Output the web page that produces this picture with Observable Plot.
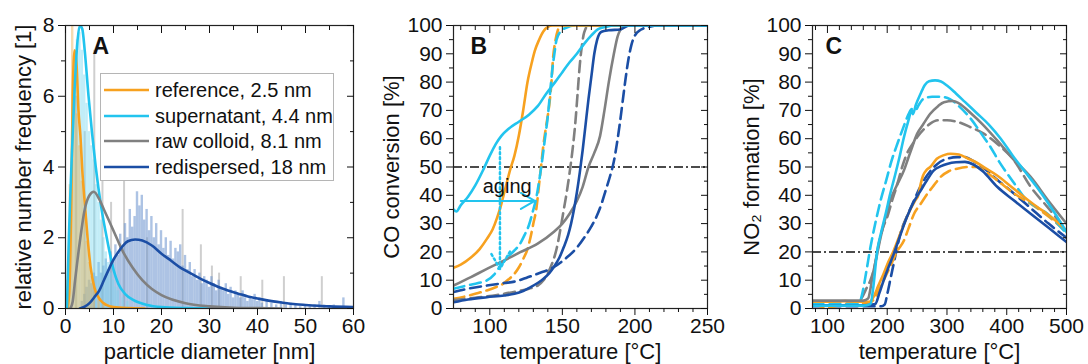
<!DOCTYPE html>
<html><head><meta charset="utf-8">
<script src="https://cdn.jsdelivr.net/npm/d3@7"></script>
<script src="https://cdn.jsdelivr.net/npm/@observablehq/plot@0.6"></script>
<style>
body{margin:0;background:#fff;}
#wrap{position:relative;width:1088px;height:364px;overflow:hidden;font-family:"Liberation Sans",Arial,sans-serif;}
.panel{position:absolute;top:0;}
#legend{position:absolute;left:100px;top:73px;width:234px;height:108px;border:1px solid #b5b5b5;background:#fff;box-sizing:border-box;}
.lrow{position:absolute;left:0;height:24px;font-size:20px;color:#111;white-space:nowrap;}
</style></head><body>
<div id="wrap">
  <div id="pa" class="panel" style="left:0"></div>
  <div id="pb" class="panel" style="left:370px"></div>
  <div id="pc" class="panel" style="left:730px"></div>
  <div id="legend"></div>
</div>
<script>
// ---------- colours ----------
const cOrange = "#f7a11f", cCyan = "#22c4ee", cGrey = "#808080", cNavy = "#1b4ea5";

// ---------- Panel A: size distributions ----------
const aLegendLabels = ["reference, 2.5 nm", "supernatant, 4.4 nm", "raw colloid, 8.1 nm", "redispersed, 18 nm"];
const aXTicks = [0, 10, 20, 30, 40, 50, 60];
const aXMinor = [5, 15, 25, 35, 45, 55];
const aYTicks = [0, 2, 4, 6, 8];
const aYMinor = [1, 3, 5, 7];

const aBlueHist = [[3.5,0.2],[4,0.4],[4.5,0.6],[5,0.8],[5.5,0.7],[6,1.0],[6.5,0.9],[7,1.3],[7.5,1.0],[8,1.2],[8.5,1.4],[9,1.1],[9.5,1.6],[10,1.3],[10.5,1.8],[11,1.5],[11.5,2.1],[12,1.7],[12.5,2.4],[13,2.0],[13.5,2.8],[14,2.3],[14.5,2.6],[15,3.3],[15.5,2.9],[16,3.2],[16.5,2.5],[17,2.8],[17.5,2.2],[18,2.6],[18.5,2.0],[19,2.4],[19.5,1.8],[20,2.2],[20.5,1.7],[21,2.0],[21.5,1.5],[22,1.9],[22.5,1.4],[23,1.7],[23.5,1.6],[24,1.8],[24.5,1.2],[25,1.5],[25.5,1.1],[26,1.3],[26.5,0.9],[27,1.1],[27.5,0.8],[28,1.0],[28.5,0.7],[29,0.9],[29.5,0.8],[30,0.6],[30.5,0.9],[31,0.7],[31.5,0.5],[32,0.8],[32.5,0.6],[33,0.5],[33.5,0.7],[34,0.4],[34.5,0.6],[35,0.3],[35.5,0.5],[36,0.4],[36.5,0.3],[37,0.5],[37.5,0.3],[38,0.2],[38.5,0.3],[39,0.25],[39.5,0.4],[40,0.2],[40.5,0.3],[41,0.15],[42,0.2],[43,0.15],[44,0.1],[45,0.2],[46,0.1],[47,0.15],[48,0.1],[49,0.05],[50,0.1],[51,0.05],[52,0.1],[53,0.2],[54,0.1],[55,0.05],[56,0.1],[58,0.3]];
const aCyanHist = [[1,2.5],[1.5,4.2],[2,6.5],[2.5,7.6],[3,7.8],[3.5,7.3],[4,6.6],[4.5,5.8],[5,5.0],[5.5,4.6],[6,4.2],[6.5,3.5],[7,3.0],[7.5,2.5],[8,2.0],[8.5,1.6],[9,1.3],[9.5,1.0],[10,0.8],[10.5,0.6],[11,0.5],[12,0.3],[13,0.2]];
const aOrangeHist = [[0.5,0.8],[1,3.5],[1.5,8.5],[2,7.2],[2.5,5.5],[3,4.6],[3.5,3.6],[4,2.6],[4.5,1.9],[5,1.3],[5.5,0.9],[6,0.6],[7,0.3],[8,0.15]];
const aGreyHist = [[2.2,6],[4,5],[6,7.3],[7.7,4.4],[9.5,3],[12.2,3.6],[17,2],[24.4,2.8],[28.2,1.8],[30.5,1.2],[32,1.0],[36.5,0.9],[41,0.8],[45.5,0.9],[53.4,0.9]];
const aHistBin = 0.5;

const aOrangeFit = [[0.4,0],[0.8,0.5],[1.2,3.0],[1.5,6.0],[1.9,7.3],[2.3,6.9],[2.7,5.6],[3.1,4.9],[3.5,3.9],[4.0,3.0],[4.6,2.0],[5.2,1.2],[6,0.6],[7.3,0.23],[8.5,0.1],[10,0.04],[13,0.01],[16.5,0]];
const aCyanFit = [[0.3,0],[0.7,2],[1.0,3.2],[1.4,4.6],[1.9,6.2],[2.4,7.4],[3.0,8.0],[3.5,7.9],[4.0,7.3],[4.8,6.0],[5.5,5.0],[6.3,4.0],[7.4,2.9],[8.6,2.0],[10,1.1],[11,0.7],[12.5,0.4],[14,0.25],[17,0.1],[20,0.04],[25,0.01],[30,0]];
const aGreyFit = [[1.0,0],[1.5,0.2],[2,0.8],[3,1.9],[4,2.8],[5,3.2],[5.9,3.3],[7,3.1],[8,2.8],[10,2.2],[12,1.6],[14,1.15],[16,0.8],[18,0.55],[20,0.38],[25,0.15],[30,0.06],[35,0.02],[40,0.01],[45,0]];
const aNavyFit = [[3,0],[4,0.05],[5,0.15],[6,0.32],[7,0.5],[8,0.8],[9,1.1],[10,1.38],[11,1.6],[12,1.78],[13,1.9],[14.5,1.95],[16,1.92],[18,1.78],[20,1.55],[22,1.35],[24,1.15],[26,1.0],[28,0.85],[30,0.72],[32,0.6],[34,0.5],[36,0.42],[38,0.34],[40,0.28],[42,0.23],[45,0.17],[48,0.12],[50,0.1],[55,0.06],[60,0.04]];

// ---------- Panel B: CO conversion ----------
const bXTicks = [100, 150, 200, 250];
const bXMinor = [80, 90, 110, 120, 130, 140, 160, 170, 180, 190, 210, 220, 230, 240];
const pctTicks = [0,10,20,30,40,50,60,70,80,90,100];
const pctMinor = [5,15,25,35,45,55,65,75,85,95];
const bThreshold = [50];
const bOrangeSolid = [[75,14.4],[80,15.5],[87,18],[93,21],[98,24.6],[102,28],[105,32],[108,37],[111,43],[114,49],[117,54],[120,61],[123,70],[126,80],[129,87],[131,91],[134,95],[137,98],[140,99.5],[143,100],[250,100]];
const bOrangeDash = [[75,3.4],[85,4.5],[92,5.5],[98,6.4],[104,7.5],[109,8.7],[113,10.3],[117,12.3],[120,14.5],[123.5,18],[126,21],[128,25],[130,30],[132,35],[134,44],[135.5,51],[137,58],[139,65],[141,72],[142.5,80],[143.5,88],[145,94],[147,98.5],[149,100],[250,100]];
const bCyanSolid = [[75,35],[77,34.3],[80,36.5],[85,39.5],[90,43.5],[95,48.5],[100,54],[104,58],[108,61],[113,63.5],[120,66],[127,68.5],[133,71.5],[139,76],[145,80],[150,83.5],[155,87],[160,90],[165,93.5],[170,96.5],[175,98.8],[180,99.5],[185,100],[250,100]];
const bCyanDash = [[75,7],[85,8.2],[92,9],[98,9.9],[103,12],[107.5,15.2],[112,18],[117,20.5],[121,23],[124,26],[127,29.5],[129.5,34],[132,39],[134,45],[136,52],[138,60],[140,68],[141.5,76],[143,84],[144.5,90],[146,95],[149,98],[153,99.3],[158,100],[250,100]];
const bGreySolid = [[75,8.1],[87,11.1],[98,14],[110,17],[121,19.9],[133,22.9],[144,27],[150,30],[155,33.5],[160,38],[164,43],[168,50],[172,55],[176,61],[179,70],[182,80],[185.5,90],[188,96],[190,98.5],[193,100],[250,100]];
const bGreyDash = [[75,3],[90,3.8],[105,4.8],[118,6],[127,7],[133,8.1],[137,10],[140,12.5],[143,16],[146,21],[149,29],[151,35],[153,41],[155,48],[157,56],[159,66],[160.5,76],[162,86],[163.5,93],[165,97.5],[168,100],[250,100]];
const bNavySolid = [[75,2.2],[85,3.2],[98,4],[110,4.6],[117,5.2],[123,6.2],[128,7.5],[133,9],[137,10.5],[141,12.5],[144,14.6],[148,18],[151,21.7],[154,26],[156,30],[158,35],[160,41],[162,48],[164,56],[166,65],[168,74],[170,82],[172,90],[174,95],[177,97.8],[182,98.3],[190,98.6],[196,100],[250,100]];
const bNavyDash = [[75,5.8],[85,7],[98,8.1],[110,9],[117,9.5],[125,10.8],[133,12.3],[144,14.6],[153,18],[160,21.5],[165,25],[170,29],[174,33],[177,37],[180,42],[183,47],[185.5,52],[187.5,58],[189.5,65],[191.5,73],[193.5,81],[195.5,88],[197.5,93],[200,96.5],[204,98.5],[210,99.5],[215,100],[250,100]];
const bAgingArrowH = [{x1: 80, y1: 38, x2: 131, y2: 38}];
const bAgingArrowV = [{x1: 107, y1: 57, x2: 107, y2: 14}];
const bAgingLabel = [{x: 112, y: 43, text: "aging"}];

// ---------- Panel C: NO2 formation ----------
const cXTicks = [100, 200, 300, 400, 500];
const cXMinor = [80, 120, 140, 160, 180, 220, 240, 260, 280, 320, 340, 360, 380, 420, 440, 460, 480];
const cThreshold = [20];
const cCyanSolid = [[75,1],[100,1],[130,1],[160,1],[172,1.6],[177,8],[183,20],[190,27],[198,34],[205,40.5],[213,47],[220,53],[228,60.5],[235,66],[241,70],[243,68.7],[248,72],[256,76],[263,79],[270,80.3],[280,80.6],[290,80.2],[300,78.8],[315,76],[330,73],[350,69],[370,65],[390,60],[410,54],[430,48.5],[450,43],[470,37],[490,30.5],[500,27]];
const cCyanDash = [[75,1.5],[100,1.5],[130,1.5],[153,1.8],[158,5],[165,13],[172,21.7],[180,30],[189,38.2],[198,45],[207,52],[217,58.2],[227,64],[236,68.8],[241,70.5],[247,70],[253,72],[260,74],[275,74.8],[290,74.8],[305,74],[320,71.5],[340,67],[360,61],[373,57],[387,52],[401,47.6],[415,43.5],[429,39.4],[445,36.5],[468,33.5],[485,30],[500,26.5]];
const cGreySolid = [[75,2.8],[100,2.8],[130,2.8],[160,2.8],[168,3.5],[172,7],[175,11],[182,18],[189,25.2],[197,32],[205,38.2],[215,43],[228,48.8],[235,53],[240,56],[250,61.7],[260,65],[272,68.8],[285,71.5],[295,72.9],[310,73.3],[320,72.5],[340,69],[360,65],[384,59.4],[410,53],[440,46.5],[470,38],[500,30]];
const cGreyDash = [[75,2.5],[100,2.5],[130,2.5],[152,2.5],[158,4],[165,7],[172,10],[178,14],[185,22],[192,28],[200,32.3],[208,38],[217,44],[225,50],[233,54.7],[242,58],[250,60.5],[262,63.5],[272,65.3],[285,66.5],[300,66.5],[320,65.8],[340,64],[360,62],[384,58.2],[412,52.4],[440,43],[468,35.9],[500,27.6]];
const cOrangeSolid = [[75,2.4],[100,2.4],[130,2.6],[150,2.4],[170,2.4],[177,4],[185,8],[194,12.3],[202,16.5],[211,20.5],[222,26.5],[233,32.3],[240,35.5],[247,38.2],[252,40],[256,44],[260,47],[266,49],[272,50],[283,52.9],[295,54.2],[306,54.7],[320,54.4],[335,53],[350,51.5],[365,49.5],[384,47],[405,43.5],[429,39.4],[450,36],[467,33.5],[485,30.5],[500,27.6]];
const cOrangeDash = [[75,1.5],[100,0.5],[130,1.5],[150,2],[170,2],[177,3],[183,5.2],[194,10],[205,14.8],[216,20],[228,24],[236,28.5],[245,33.5],[256,37],[267,40.5],[278,43.5],[289,46.4],[303,48.5],[317,49.4],[335,50],[350,50],[367,48],[384,45.3],[410,41],[440,37],[470,32.5],[500,27]];
const cNavySolid = [[75,1.1],[100,1.1],[130,1.1],[160,1.1],[180,1.6],[187,5.5],[194,9.9],[202,14.5],[211,19.3],[222,26],[233,32.3],[244,37.5],[256,41.7],[267,45.5],[278,48.8],[290,50.3],[300,51.1],[315,51.7],[330,51.8],[345,50.8],[360,48.5],[384,43],[410,38.5],[440,33.5],[470,28.5],[500,23.5]];
const cNavyDash = [[75,0.8],[100,0.8],[130,0.8],[160,0.8],[190,0.8],[196,1.5],[200,5],[206,11],[211,16],[216,21],[222,26.4],[233,32.5],[245,38.2],[253,42],[261,45.2],[272,48.5],[284,51.1],[300,52.9],[317,53.5],[330,53.5],[345,52],[365,49],[384,45.5],[410,41],[440,35.5],[470,30],[500,25]];

// ---------- helpers ----------
const FONT = '"Liberation Sans", Arial, sans-serif';
const DASH = "11,6";
const LW = 2.6;
function axes(xMaj, xMin, yMaj, yMin) {
  const blank = () => "";
  return [
    Plot.axisX(xMaj, {anchor: "bottom", tickSize: 7, tickPadding: 3, label: null, fontSize: 21}),
    Plot.axisX(xMin, {anchor: "bottom", tickSize: 4, tickFormat: blank, label: null}),
    Plot.axisX(xMaj, {anchor: "top", tickSize: 7, dy: 7, tickFormat: blank, label: null}),
    Plot.axisX(xMin, {anchor: "top", tickSize: 4, dy: 4, tickFormat: blank, label: null}),
    Plot.axisY(yMaj, {anchor: "left", tickSize: 7, tickPadding: 4, label: null, fontSize: 21}),
    Plot.axisY(yMin, {anchor: "left", tickSize: 4, tickFormat: blank, label: null}),
    Plot.axisY(yMaj, {anchor: "right", tickSize: 7, dx: -7, tickFormat: blank, label: null}),
    Plot.axisY(yMin, {anchor: "right", tickSize: 4, dx: -4, tickFormat: blank, label: null})
  ];
}
function titleMarks(xLabel, yLabel, yOff, letter, ldx) {
  return [
    Plot.text([xLabel], {frameAnchor: "bottom", dy: 43, fontSize: 22, textAnchor: "middle", lineAnchor: "middle", fill: "#111"}),
    Plot.text([yLabel], {frameAnchor: "left", dx: -yOff, rotate: -90, fontSize: 22, textAnchor: "middle", lineAnchor: "middle", fill: "#111"}),
    Plot.text([letter], {frameAnchor: "top-left", dx: ldx, dy: 12, textAnchor: "start", lineAnchor: "top", fontSize: 23, fontWeight: "bold", fill: "#111"})
  ];
}
const line = (data, color, dashed) => Plot.line(data, {x: d => d[0], y: d => d[1], stroke: color, strokeWidth: LW, strokeDasharray: dashed ? DASH : null, curve: "monotone-x", clip: true});
const style = {fontFamily: FONT, fontSize: "21px", color: "#111", background: "transparent", overflow: "visible"};

// ---------- Panel A ----------
const histRect = (data, fill) => Plot.rectY(data, {x1: d => d[0] - aHistBin / 2, x2: d => d[0] + aHistBin / 2, y1: 0, y2: d => d[1], fill, clip: true});
const plotA = Plot.plot({
  width: 370, height: 364, marginLeft: 65, marginRight: 17, marginTop: 25, marginBottom: 56,
  x: {domain: [0, 60]}, y: {domain: [0, 8]}, style,
  marks: [
    Plot.ruleX(aGreyHist, {x: d => d[0], y1: 0, y2: d => d[1], stroke: "#cfcfcf", strokeWidth: 2, clip: true}),
    histRect(aBlueHist, "rgba(105,145,205,0.55)"),
    histRect(aCyanHist, "rgba(120,215,240,0.45)"),
    histRect(aOrangeHist, "rgba(235,175,80,0.45)"),
    line(aOrangeFit, cOrange), line(aCyanFit, cCyan), line(aGreyFit, cGrey), line(aNavyFit, cNavy),
    Plot.frame({stroke: "#222", strokeWidth: 1.2}),
    ...axes(aXTicks, aXMinor, aYTicks, aYMinor),
    ...titleMarks("particle diameter [nm]", "relative number frequency [1]", 42, "A", 27)
  ]
});
document.getElementById("pa").appendChild(plotA);

// ---------- Panel B ----------
const plotB = Plot.plot({
  width: 360, height: 364, marginLeft: 83, marginRight: 23, marginTop: 25, marginBottom: 56,
  x: {domain: [75, 250]}, y: {domain: [0, 100]}, style,
  marks: [
    Plot.ruleY(bThreshold, {stroke: "#111", strokeWidth: 1.5, strokeDasharray: "9,3,2,3"}),
    line(bOrangeDash, cOrange, true), line(bCyanDash, cCyan, true), line(bGreyDash, cGrey, true), line(bNavyDash, cNavy, true),
    line(bOrangeSolid, cOrange), line(bGreySolid, cGrey), line(bNavySolid, cNavy), line(bCyanSolid, cCyan),
    Plot.arrow(bAgingArrowH, {x1: "x1", y1: "y1", x2: "x2", y2: "y2", stroke: cCyan, strokeWidth: 2, headLength: 12}),
    Plot.arrow(bAgingArrowV, {x1: "x1", y1: "y1", x2: "x2", y2: "y2", stroke: cCyan, strokeWidth: 2.5, strokeDasharray: "2,3", headLength: 12}),
    Plot.text(bAgingLabel, {x: "x", y: "y", text: "text", fontSize: 20, fill: "#111"}),
    Plot.frame({stroke: "#222", strokeWidth: 1.2}),
    ...axes(bXTicks, bXMinor, pctTicks, pctMinor),
    ...titleMarks("temperature [°C]", "CO conversion [%]", 62, "B", 17)
  ]
});
document.getElementById("pb").appendChild(plotB);

// ---------- Panel C ----------
const plotC = Plot.plot({
  width: 358, height: 364, marginLeft: 82, marginRight: 22, marginTop: 25, marginBottom: 56,
  x: {domain: [75, 500]}, y: {domain: [0, 100]}, style,
  marks: [
    Plot.ruleY(cThreshold, {stroke: "#111", strokeWidth: 1.5, strokeDasharray: "9,3,2,3"}),
    line(cNavyDash, cNavy, true), line(cOrangeDash, cOrange, true), line(cGreyDash, cGrey, true), line(cCyanDash, cCyan, true),
    line(cOrangeSolid, cOrange), line(cNavySolid, cNavy), line(cGreySolid, cGrey), line(cCyanSolid, cCyan),
    Plot.frame({stroke: "#222", strokeWidth: 1.2}),
    ...axes(cXTicks, cXMinor, pctTicks, pctMinor),
    ...titleMarks("temperature [°C]", "NO₂ formation [%]", 61, "C", 13)
  ]
});
document.getElementById("pc").appendChild(plotC);

// ---------- Legend (panel A) ----------
const legendColors = [cOrange, cCyan, cGrey, cNavy];
const leg = document.getElementById("legend");
aLegendLabels.forEach((lab, i) => {
  const row = document.createElement("div");
  row.className = "lrow";
  row.style.top = (4 + i * 25.5) + "px";
  row.innerHTML = `<svg width="54" height="24" style="vertical-align:top"><line x1="3" x2="48" y1="12" y2="12" stroke="${legendColors[i]}" stroke-width="2.6"/></svg><span style="position:absolute;left:54px;top:1px">${lab}</span>`;
  leg.appendChild(row);
});
</script>
</body></html>
